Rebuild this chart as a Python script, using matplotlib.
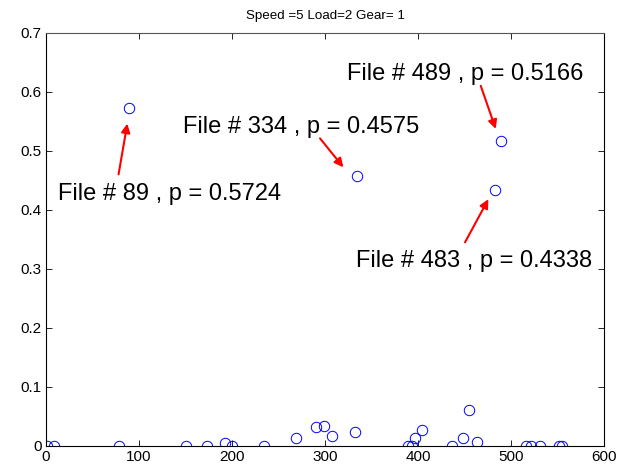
import matplotlib
matplotlib.use("Agg")
import matplotlib.pyplot as plt
from matplotlib.ticker import FuncFormatter

plt.rcParams['font.family'] = ['Liberation Sans', 'DejaVu Sans']

# File number and p-value for each test file
file_no = [1, 9, 78, 89, 150, 173, 192, 200, 234, 269, 290, 299, 307, 332,
           334, 389, 394, 397, 404, 437, 448, 455, 463, 483, 489, 516, 521,
           531, 552, 555]
p_val = [0.0, 0.0, 0.0, 0.5724, 0.0, 0.0, 0.0046, 0.0, 0.0, 0.0135, 0.0326,
         0.0343, 0.0175, 0.0236, 0.4575, 0.0, 0.0, 0.014, 0.027, 0.0, 0.014,
         0.0608, 0.0073, 0.4338, 0.5166, 0.0, 0.0, 0.0, 0.0, 0.0]

# Highlighted files: (file, p, text position, arrow tail, arrow head)
notes = [
    (89, 0.5724, (13, 0.427), (78, 0.460), (87.4, 0.546)),
    (334, 0.4575, (147, 0.54), (294.6, 0.521), (319.7, 0.472)),
    (489, 0.5166, (324, 0.630), (467.4, 0.610), (483.5, 0.537)),
    (483, 0.4338, (333, 0.3125), (450.5, 0.345), (475.6, 0.418)),
]

x_ticks = [0, 100, 200, 300, 400, 500, 600]
y_ticks = [0, 0.1, 0.2, 0.3, 0.4, 0.5, 0.6, 0.7]

fig = plt.figure(figsize=(6.26, 4.67), dpi=100)
ax = fig.add_axes([0.0735, 0.045, 0.8915, 0.885])

ax.plot(file_no, p_val, 'o', mfc='none', mec='blue', ms=7.5, mew=0.7,
        linestyle='none')

for f, p, txt, tail, head in notes:
    ax.text(txt[0], txt[1], f'File # {f} , p = {p:.4f}', fontsize=17,
            ha='left', va='center', color='black')
    ax.annotate('', xy=head, xytext=tail,
                arrowprops=dict(arrowstyle='-|>', color='red', lw=1.5,
                                mutation_scale=13, shrinkA=0, shrinkB=0))

ax.set_xlim(0, 600)
ax.set_ylim(0, 0.7)
ax.set_xticks(x_ticks)
ax.set_yticks(y_ticks)
ax.xaxis.set_major_formatter(FuncFormatter(lambda v, _: f'{v:g}'))
ax.yaxis.set_major_formatter(FuncFormatter(lambda v, _: f'{v:g}'))
ax.tick_params(direction='in', length=4, width=0.6, labelsize=11,
               top=True, right=True, pad=3)
for s in ax.spines.values():
    s.set_linewidth(0.8)
    s.set_color('black')
ax.spines['top'].set_color('#555555')

ax.set_title('Speed =5 Load=2 Gear= 1', fontsize=9.6, pad=10)

fig.savefig('out.png', dpi=100)
